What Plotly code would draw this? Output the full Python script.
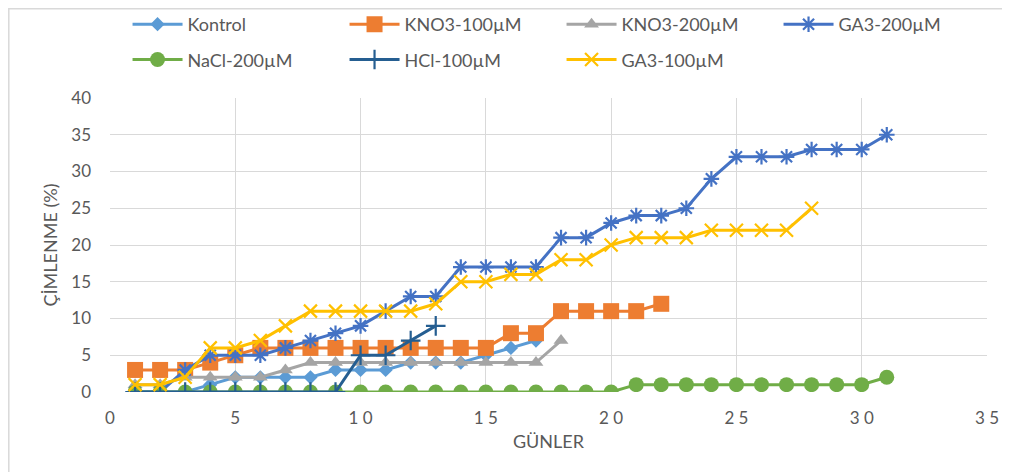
import plotly.graph_objects as go

days_kontrol = list(range(1, 18))
kontrol = [0, 0, 0, 1, 2, 2, 2, 2, 3, 3, 3, 4, 4, 4, 5, 6, 7]

days_kno3_100 = list(range(1, 23))
kno3_100 = [3, 3, 3, 4, 5, 6, 6, 6, 6, 6, 6, 6, 6, 6, 6, 8, 8, 11, 11, 11, 11, 12]

days_kno3_200 = list(range(1, 19))
kno3_200 = [1, 1, 2, 2, 2, 2, 3, 4, 4, 4, 4, 4, 4, 4, 4, 4, 4, 7]

days_ga3_200 = list(range(1, 32))
ga3_200 = [0, 0, 3, 5, 5, 5, 6, 7, 8, 9, 11, 13, 13, 17, 17, 17, 17, 21, 21, 23,
           24, 24, 25, 29, 32, 32, 32, 33, 33, 33, 35]

days_nacl = list(range(1, 32))
nacl_200 = [0] * 20 + [1] * 10 + [2]

days_hcl = list(range(1, 14))
hcl_100 = [0, 0, 0, 0, 0, 0, 0, 0, 0, 5, 5, 7, 9]

days_ga3_100 = list(range(1, 29))
ga3_100 = [1, 1, 2, 6, 6, 7, 9, 11, 11, 11, 11, 11, 12, 15, 15, 16, 16, 18, 18, 20,
           21, 21, 21, 22, 22, 22, 22, 25]

x_tickvals = [0, 5, 10, 15, 20, 25, 30, 35]
x_ticktext = ["0", "5", "1 0", "1 5", "2 0", "2 5", "3 0", "3 5"]
y_tickvals = [0, 5, 10, 15, 20, 25, 30, 35, 40]

FONT = "Lato"
GRAY = "#595959"

series = [
    ("Kontrol", days_kontrol, kontrol, "#5B9BD5", "diamond", 11, "legend"),
    ("KNO3-100µM", days_kno3_100, kno3_100, "#ED7D31", "square", 16, "legend"),
    ("KNO3-200µM", days_kno3_200, kno3_200, "#A5A5A5", "triangle-up", 13, "legend"),
    ("GA3-200µM", days_ga3_200, ga3_200, "#4472C4", "asterisk-open", 13, "legend"),
    ("NaCl-200µM", days_nacl, nacl_200, "#70AD47", "circle", 15, "legend2"),
    ("HCl-100µM", days_hcl, hcl_100, "#255E91", "cross-thin-open", 14, "legend2"),
    ("GA3-100µM", days_ga3_100, ga3_100, "#FFC000", "x-thin-open", 13, "legend2"),
]

fig = go.Figure()
for name, xs, ys, color, sym, size, leg in series:
    open_sym = sym.endswith("open")
    fig.add_trace(go.Scatter(
        x=xs, y=ys, name=name, mode="lines+markers",
        line=dict(color=color, width=3),
        marker=dict(symbol=sym, size=size, color=color,
                    line=dict(color=color, width=2.2 if open_sym else 0)),
        legend=leg,
    ))

# page body adds an 8px offset; plot area on screen: x 110..987, y 98..392
L, T, PW, PH = 102, 90, 877, 294
W, H = 1002, 464

fig.update_layout(
    width=W, height=H,
    margin=dict(l=L, r=W - L - PW, t=T, b=H - T - PH, autoexpand=False),
    paper_bgcolor="white", plot_bgcolor="white",
    font=dict(family=FONT, color=GRAY, size=17),
    xaxis=dict(range=[0, 35], tickvals=x_tickvals, ticktext=x_ticktext,
               showgrid=True, gridcolor="#D9D9D9", gridwidth=1, zeroline=False,
               showline=False, tickfont=dict(size=17, color=GRAY), automargin=False,
               ticklabelstandoff=14,
               title=dict(text="GÜNLER", font=dict(size=18, color=GRAY), standoff=8)),
    yaxis=dict(range=[0, 40], tickvals=y_tickvals,
               showgrid=True, gridcolor="#D9D9D9", gridwidth=1, zeroline=False,
               showline=False, tickfont=dict(size=17, color=GRAY), automargin=False,
               ticklabelstandoff=18,
               title=dict(text="ÇİMLENME (%)", font=dict(size=18, color=GRAY), standoff=8)),
    legend=dict(orientation="h", x=0.020, y=1.25, xanchor="left", yanchor="middle",
                entrywidth=152, entrywidthmode="pixels", itemwidth=50,
                font=dict(size=18, color=GRAY), bgcolor="rgba(0,0,0,0)"),
    legend2=dict(orientation="h", x=0.020, y=1.13, xanchor="left", yanchor="middle",
                 entrywidth=152, entrywidthmode="pixels", itemwidth=50,
                 font=dict(size=18, color=GRAY), bgcolor="rgba(0,0,0,0)"),
    shapes=[dict(type="rect", xref="paper", yref="paper",
                 x0=(0.8 - L) / PW, x1=(W + 20 - L) / PW,
                 y0=(T + PH - H - 20) / PH, y1=(T + PH - 0.8) / PH,
                 line=dict(color="#D9D9D9", width=1.5), layer="below")],
)

fig.write_html("out.html")
